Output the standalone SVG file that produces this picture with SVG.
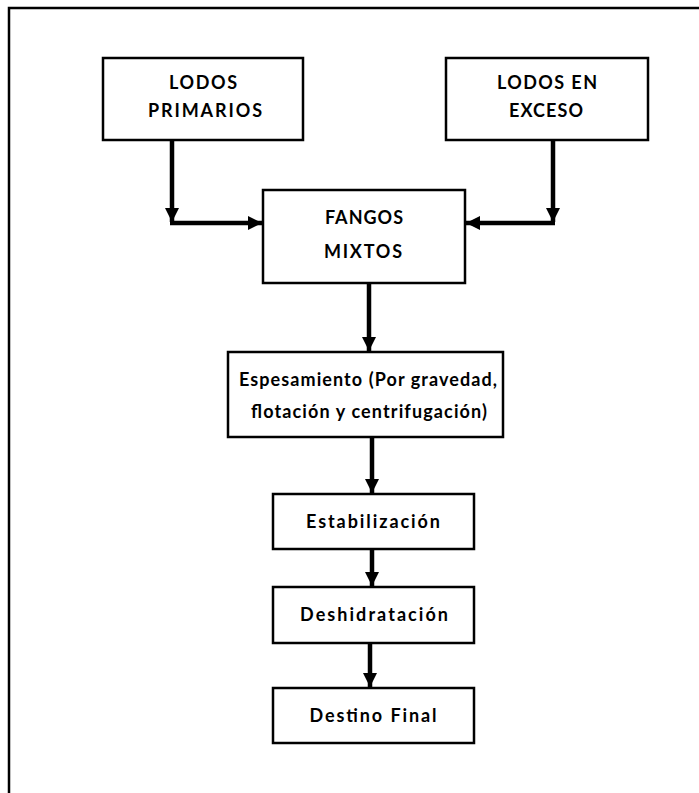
<svg xmlns="http://www.w3.org/2000/svg" width="699" height="793" viewBox="0 0 699 793">
<defs>
<style>
.box{fill:#fff;stroke:#000;stroke-width:2.5}
.frame{fill:none;stroke:#000;stroke-width:2.5}
.t{font-family:Lato,"Open Sans","Liberation Sans",sans-serif;font-weight:bold;font-size:18px;fill:#000;text-anchor:middle}
.c{fill:none;stroke:#000;stroke-width:4.5}
</style>
<marker id="ah" viewBox="0 0 10 10" refX="10" refY="5" markerWidth="3.2" markerHeight="3.2" orient="auto" markerUnits="strokeWidth">
<path d="M0,0 L10,5 L0,10 Z" fill="#000"/>
</marker>
</defs>
<rect width="699" height="793" fill="#fff"/>
<path class="frame" d="M9,793 V8 H699"/>
<g id="connectors">
<path class="c" d="M172,140 V222" marker-end="url(#ah)"/>
<path class="c" d="M170,223 H262" marker-end="url(#ah)"/>
<path class="c" d="M553,140 V222" marker-end="url(#ah)"/>
<path class="c" d="M555,223 H466" marker-end="url(#ah)"/>
<path class="c" d="M369,283 V351" marker-end="url(#ah)"/>
<path class="c" d="M372,437 V493" marker-end="url(#ah)"/>
<path class="c" d="M372,549 V586" marker-end="url(#ah)"/>
<path class="c" d="M370,643 V687" marker-end="url(#ah)"/>
</g>
<g id="lodos-primarios">
<rect class="box" x="103" y="58" width="200" height="82"/>
<text class="t" x="203" y="89" textLength="68" lengthAdjust="spacing">LODOS</text>
<text class="t" x="205" y="117" textLength="114" lengthAdjust="spacing">PRIMARIOS</text>
</g>
<g id="lodos-exceso">
<rect class="box" x="446" y="58" width="202" height="82"/>
<text class="t" x="547" y="89" textLength="100" lengthAdjust="spacing">LODOS EN</text>
<text class="t" x="546" y="117" textLength="74" lengthAdjust="spacing">EXCESO</text>
</g>
<g id="fangos-mixtos">
<rect class="box" x="263" y="190" width="202" height="93"/>
<text class="t" x="364" y="224" textLength="78" lengthAdjust="spacing">FANGOS</text>
<text class="t" x="363" y="258" textLength="78" lengthAdjust="spacing">MIXTOS</text>
</g>
<g id="espesamiento">
<rect class="box" x="228" y="352" width="275" height="85"/>
<text class="t" x="368" y="386" textLength="258" lengthAdjust="spacing">Espesamiento (Por gravedad,</text>
<text class="t" x="369" y="418" textLength="236" lengthAdjust="spacing">flotación y centrifugación)</text>
</g>
<g id="estabilizacion">
<rect class="box" x="273" y="494" width="201" height="55"/>
<text class="t" x="373" y="528" textLength="134" lengthAdjust="spacing">Estabilización</text>
</g>
<g id="deshidratacion">
<rect class="box" x="273" y="587" width="201" height="56"/>
<text class="t" x="374" y="621" textLength="148" lengthAdjust="spacing">Deshidratación</text>
</g>
<g id="destino-final">
<rect class="box" x="273" y="688" width="201" height="55"/>
<text class="t" x="373" y="722" textLength="127" lengthAdjust="spacing">Destino Final</text>
</g>
</svg>
